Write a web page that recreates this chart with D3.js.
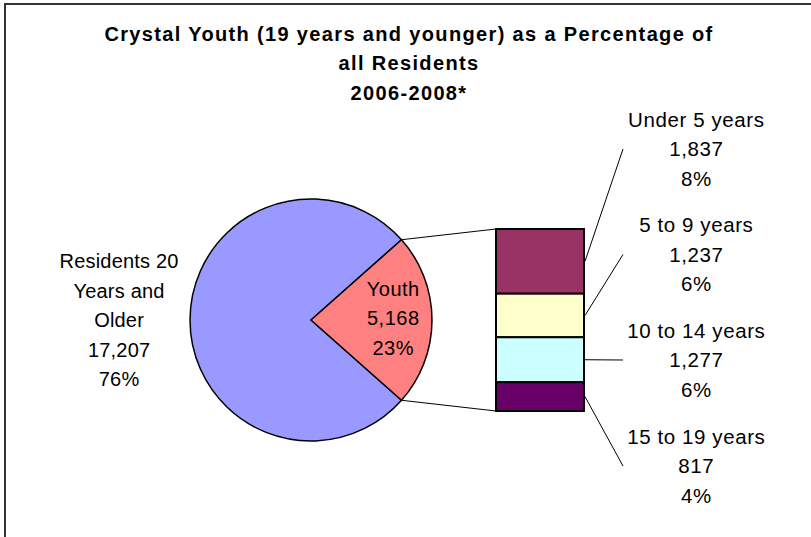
<!DOCTYPE html>
<html>
<head>
<meta charset="utf-8">
<script src="https://cdn.jsdelivr.net/npm/d3@7"></script>
<style>
  html, body { margin: 0; padding: 0; background: #fff; }
  svg { display: block; }
  text { font-family: "Liberation Sans", Arial, sans-serif; fill: #000; }
</style>
</head>
<body>
<svg id="chart" width="811" height="537"></svg>
<script>
// ---- data ----
const titleLines = ["Crystal Youth (19 years and younger) as a Percentage of", "all Residents", "2006-2008*"];
const pieCategories = ["Residents 20 Years and Older", "Youth"];
const pieLabelLines = [["Residents 20", "Years and", "Older"], ["Youth"]];
const pieValues = [17207, 5168];
const piePercents = ["76%", "23%"];
const pieColors = ["#9999FF", "#FF8080"];

const barCategories = ["Under 5 years", "5 to 9 years", "10 to 14 years", "15 to 19 years"];
const barValues = [1837, 1237, 1277, 817];
const barPercents = ["8%", "6%", "6%", "4%"];
const barColors = ["#993366", "#FFFFCC", "#CCFFFF", "#660066"];

// ---- layout ----
const svg = d3.select("#chart");
const fmt = d3.format(",");
const cx = 311, cy = 320, R = 121;
const barX0 = 496, barX1 = 584, barTop = 229, barBottom = 411;
const lineH = 29.5;

// frame
svg.append("rect").attr("x", 5).attr("y", 4).attr("width", 830).attr("height", 560)
  .attr("fill", "#fff").attr("stroke", "#333").attr("stroke-width", 2);

// title
const title = svg.append("text").attr("x", 409).attr("y", 70 - lineH)
  .attr("text-anchor", "middle").attr("font-weight", "bold").attr("font-size", 20)
  .attr("letter-spacing", 1.35);
titleLines.forEach((t, i) => title.append("tspan").attr("x", 409).attr("dy", i === 0 ? 0 : lineH).text(t));

// pie
const total = d3.sum(pieValues);
const youthAngle = pieValues[1] / total * 2 * Math.PI;
const start = Math.PI / 2 + youthAngle / 2;
const pie = d3.pie().sort(null).startAngle(start).endAngle(start + 2 * Math.PI);
const arcs = pie(pieValues);
const arc = d3.arc().innerRadius(0).outerRadius(R);
const g = svg.append("g").attr("transform", `translate(${cx},${cy})`);
g.selectAll("path").data(arcs).join("path")
  .attr("d", arc)
  .attr("fill", (d, i) => pieColors[i])
  .attr("stroke", "#000").attr("stroke-width", 1.5).attr("stroke-linejoin", "round");

// bar (stack)
const y = d3.scaleLinear().domain([0, d3.sum(barValues)]).range([barTop, barBottom]);
const cum = d3.cumsum([0, ...barValues]);
const segs = barValues.map((v, i) => ({ v, i, y0: y(cum[i]), y1: y(cum[i + 1]) }));

// connector lines from pie wedge edge to bar corners
const yArc = arcs[1];
const pt = a => [cx + R * Math.sin(a), cy - R * Math.cos(a)];
const pUp = pt(yArc.startAngle), pDown = pt(yArc.endAngle);
svg.append("line").attr("x1", pUp[0]).attr("y1", pUp[1]).attr("x2", barX0).attr("y2", barTop)
  .attr("stroke", "#000").attr("stroke-width", 1);
svg.append("line").attr("x1", pDown[0]).attr("y1", pDown[1]).attr("x2", barX0).attr("y2", barBottom)
  .attr("stroke", "#000").attr("stroke-width", 1);

svg.selectAll("rect.seg").data(segs).join("rect").attr("class", "seg")
  .attr("x", barX0).attr("y", d => d.y0)
  .attr("width", barX1 - barX0).attr("height", d => d.y1 - d.y0)
  .attr("fill", d => barColors[d.i])
  .attr("stroke", "#000").attr("stroke-width", 2);

// labels
function multiLabel(x, midBaseline, lines, size, ls) {
  const t = svg.append("text").attr("x", x).attr("text-anchor", "middle")
    .attr("font-size", size).attr("letter-spacing", ls)
    .attr("y", midBaseline - lineH * (lines.length - 1) / 2);
  lines.forEach((s, i) => t.append("tspan").attr("x", x + ls / 2).attr("dy", i === 0 ? 0 : lineH).text(s));
}
multiLabel(119, 327, [...pieLabelLines[0], fmt(pieValues[0]), piePercents[0]], 20, 0.2);
multiLabel(393, 325, [...pieLabelLines[1], fmt(pieValues[1]), piePercents[1]], 20, 0.5);

const labelX = 696, leaderEndX = 623;
const labelMid = [156, 261.5, 367, 473];
segs.forEach((d, i) => {
  const ym = (d.y0 + d.y1) / 2;
  svg.append("line").attr("x1", barX1 + 1).attr("y1", ym).attr("x2", leaderEndX).attr("y2", labelMid[i] - 7)
    .attr("stroke", "#000").attr("stroke-width", 1);
  multiLabel(labelX, labelMid[i], [barCategories[i], fmt(barValues[i]), barPercents[i]], 20.5, 0.6);
});
</script>
</body>
</html>
